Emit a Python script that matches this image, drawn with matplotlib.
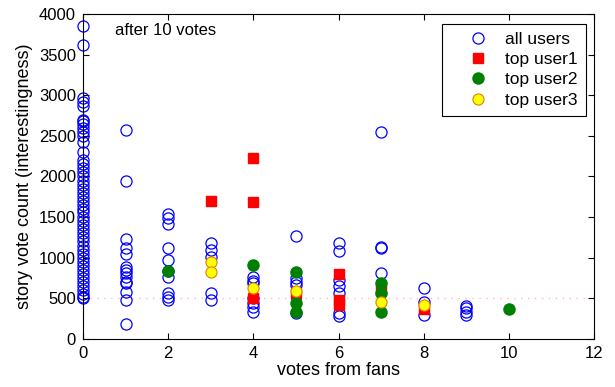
import numpy as np
import matplotlib
matplotlib.use("Agg")
import matplotlib.pyplot as plt

plt.rcParams['font.family'] = ['Liberation Sans', 'DejaVu Sans']

# all users, one list per "votes from fans" value (0..9)
all0 = [3850, 3620, 2960, 2920, 2870, 2700, 2680, 2650, 2600, 2550, 2500, 2420, 2300, 2200, 2150,
        2100, 2050, 2000, 1950, 1900, 1850, 1800, 1750, 1700, 1650, 1600, 1560, 1500, 1450, 1400,
        1350, 1300, 1250, 1200, 1150, 1100, 1050, 1000, 950, 900, 850, 800, 750, 700, 650, 600,
        550, 520, 500]
all1 = [2572, 1945, 1227, 1124, 1046, 890, 849, 808, 760, 706, 693, 583, 480, 185]
all2 = [1534, 1485, 1415, 1124, 972, 841, 767, 562, 521, 480]
all3 = [1186, 1096, 1013, 570, 480]
all4 = [759, 714, 685, 500, 447, 398, 336]
all5 = [1268, 747, 706, 665, 316]
all6 = [1178, 1083, 726, 652, 570, 324, 283]
all7 = [2552, 1136, 1116, 816]
all8 = [624, 459, 295]
all9 = [406, 378, 336, 295]
all_cols = [all0, all1, all2, all3, all4, all5, all6, all7, all8, all9]

user1_x = [3, 4, 4, 4, 5, 6, 6, 6, 7, 8]
user1_y = [1698, 2228, 1690, 500, 554, 800, 476, 418, 603, 365]
user2_x = [2, 4, 5, 5, 5, 7, 7, 7, 10]
user2_y = [841, 907, 829, 447, 336, 693, 562, 332, 373]
user3_x = [3, 3, 4, 5, 7, 8]
user3_y = [952, 825, 632, 595, 455, 418]

fig = plt.figure(figsize=(6.15, 3.87), dpi=100)
ax = fig.add_axes([0.135, 0.124, 0.831, 0.840])

ax.plot([0, 12], [500, 500], linestyle=(0, (1, 4)), color='#ffb6c8', linewidth=1, zorder=1)

for i, col in enumerate(all_cols):
    ax.plot([i] * len(col), col, 'o', markerfacecolor='none', markeredgecolor='blue',
            markersize=8, markeredgewidth=0.9, linestyle='none', clip_on=False,
            label='all users' if i == 0 else None, zorder=2)
ax.plot(user1_x, user1_y, 's', color='red', markersize=6.5, markeredgecolor='red',
        linestyle='none', label='top user1', zorder=3)
ax.plot(user2_x, user2_y, 'o', color='green', markersize=8, markeredgecolor='green',
        linestyle='none', label='top user2', zorder=3)
ax.plot(user3_x, user3_y, 'o', markerfacecolor='yellow', markeredgecolor='#e08000',
        markersize=8, markeredgewidth=0.8, linestyle='none', label='top user3', zorder=4)

ax.set_xlim(0, 12)
ax.set_ylim(0, 4000)
ax.set_xticks(np.arange(0, 13, 2))
ax.set_yticks(np.arange(0, 4001, 500))
ax.tick_params(direction='in', top=True, right=True, labelsize=12, length=4, pad=5)
ax.set_xlabel('votes from fans', fontsize=13, labelpad=1)
ax.set_ylabel('story vote count (interestingness)', fontsize=13, labelpad=4)
ax.text(0.75, 3790, 'after 10 votes', fontsize=12, va='center')

leg = ax.legend(loc='upper right', fontsize=12.5, fancybox=False, framealpha=1,
                edgecolor='black', handlelength=3.2, handletextpad=0.0, borderpad=0.45,
                labelspacing=0.3, borderaxespad=0, bbox_to_anchor=(0.984, 0.97))
leg.get_frame().set_linewidth(0.8)

fig.savefig('out.png', dpi=100)
